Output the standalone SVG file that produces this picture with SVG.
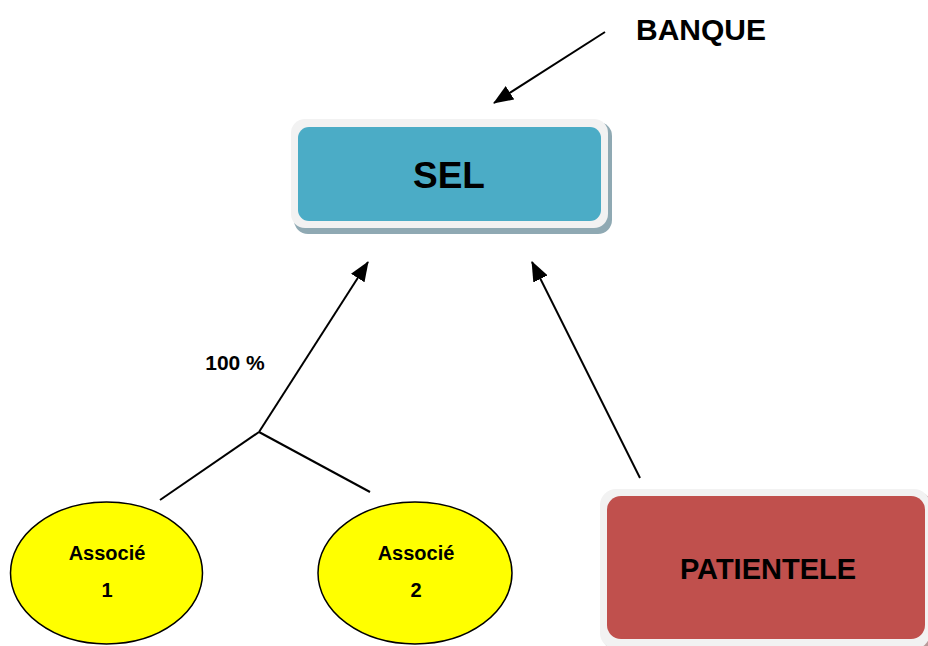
<svg xmlns="http://www.w3.org/2000/svg" width="928" height="646" viewBox="0 0 928 646">
<style>
text{font-family:"Liberation Sans",Arial,sans-serif;font-weight:bold;fill:#000;text-anchor:middle}
.ln{stroke:#000;stroke-width:2;fill:none}
</style>
<defs>
<marker id="ah2" viewBox="0 0 20 16" refX="19" refY="8" markerWidth="20" markerHeight="16" orient="auto" markerUnits="userSpaceOnUse">
<path d="M0,0 L20,8 L0,16 z" fill="#000"/>
</marker>
</defs>
<rect width="928" height="646" fill="#fff"/>
<g id="connectors">
<line class="ln" x1="605" y1="32" x2="494" y2="103" marker-end="url(#ah2)"/>
<line class="ln" x1="160" y1="500" x2="259" y2="432"/>
<line class="ln" x1="259" y1="432" x2="370" y2="492"/>
<line class="ln" x1="259" y1="432" x2="368" y2="262" marker-end="url(#ah2)"/>
<line class="ln" x1="640" y1="478" x2="532" y2="262" marker-end="url(#ah2)"/>
</g>
<g id="banque"><text x="701" y="40" font-size="30">BANQUE</text></g>
<g id="label100"><text x="235" y="370" font-size="21">100 %</text></g>
<g id="sel">
<rect x="294" y="122" width="318" height="112" rx="14" fill="#8fa9b3"/>
<rect x="291" y="119" width="317" height="109" rx="14" fill="#f2f2f2"/>
<rect x="298" y="127" width="303" height="94" rx="11" fill="#4BACC6"/>
<text x="449" y="188" font-size="37">SEL</text>
</g>
<g id="patientele">
<rect x="603" y="492" width="330" height="160" rx="16" fill="#b89a99"/>
<rect x="600" y="489" width="330" height="160" rx="16" fill="#f2f2f2"/>
<rect x="607" y="496" width="318" height="143" rx="14" fill="#C0504D"/>
<text x="768" y="579" font-size="29">PATIENTELE</text>
</g>
<g id="associe1">
<ellipse cx="106.5" cy="573" rx="96" ry="71" fill="#ffff00" stroke="#000" stroke-width="1.5"/>
<text x="107" y="560" font-size="20">Associé</text>
<text x="107" y="597" font-size="20">1</text>
</g>
<g id="associe2">
<ellipse cx="415" cy="573" rx="97" ry="71" fill="#ffff00" stroke="#000" stroke-width="1.5"/>
<text x="416" y="560" font-size="20">Associé</text>
<text x="416" y="597" font-size="20">2</text>
</g>
</svg>
